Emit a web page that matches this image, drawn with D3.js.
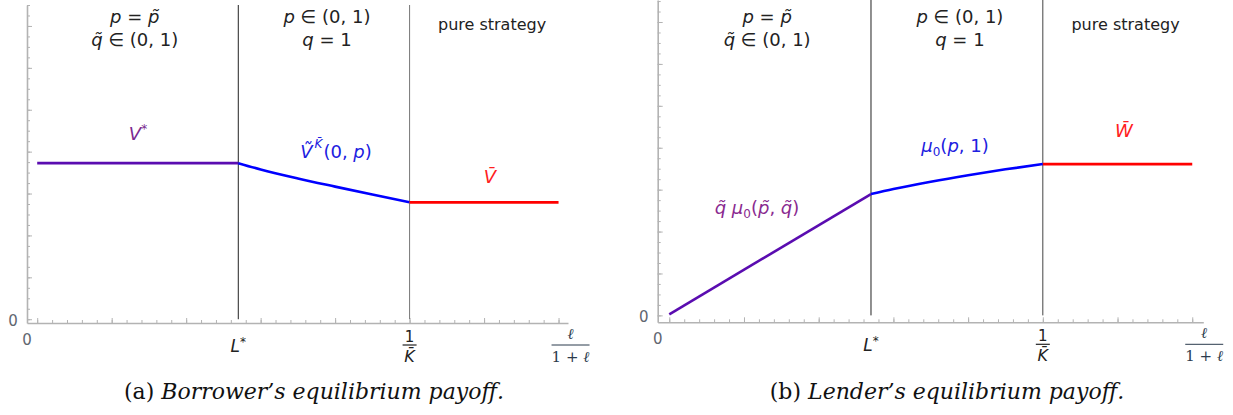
<!DOCTYPE html>
<html>
<head>
<meta charset="utf-8">
<script src="https://cdn.jsdelivr.net/npm/d3@7"></script>
<style>
  body { margin: 0; background: #fff; }
  svg { display: block; }
  .math { font-family: "DejaVu Sans", sans-serif; }
  .serif { font-family: "DejaVu Serif", serif; }
  .cap { font-family: "DejaVu Serif", serif; }
</style>
</head>
<body>
<svg id="chart" width="1233" height="415"></svg>
<script>
// Regime thresholds on the horizontal axis (model units)
const xThresholds = [0, 0.27, 0.5, 0.7];   // start, L*, 1/K̄, end

// Panel (a): borrower payoff
const borrowerMixedX = [0, 0.27];
const borrowerMixedY = [0.745, 0.745];                 // V*
const borrowerPartialX = [0.27, 0.30, 0.35, 0.40, 0.45, 0.50];
const borrowerPartialY = [0.745, 0.715, 0.672, 0.633, 0.595, 0.558]; // Ṽ^K̄(0,p)
const borrowerPureX = [0.5, 0.7];
const borrowerPureY = [0.558, 0.558];                  // V̄

// Panel (b): lender payoff
const lenderMixedX = [0, 0.27];
const lenderMixedY = [0.005, 0.579];                   // q̃ μ0(p̃,q̃)
const lenderPartialX = [0.27, 0.30, 0.35, 0.40, 0.45, 0.50];
const lenderPartialY = [0.579, 0.603, 0.638, 0.669, 0.697, 0.722]; // μ0(p,1)
const lenderPureX = [0.5, 0.7];
const lenderPureY = [0.722, 0.722];                    // W̄

// Tick grids
const xMinorStep = 0.02, xMajorStep = 0.1;
const yMinorStep = 0.05, yMajorStep = 0.2;

const svg = d3.select("#chart");

const panels = [
  {
    id: "a",
    xDomain: [-0.0137, 0.7127], xRange: [27, 568],
    yDomain: [-0.018, 1.5], yRange: [323, 5],
    series: [
      { xs: borrowerMixedX, ys: borrowerMixedY, color: "#5a0cb0" },
      { xs: borrowerPartialX, ys: borrowerPartialY, color: "#0000ff" },
      { xs: borrowerPureX, ys: borrowerPureY, color: "#ff0000" }
    ],
    lineColors: ["#222", "#777"]
  },
  {
    id: "b",
    xDomain: [-0.0155, 0.7148], xRange: [657.7, 1203.3],
    yDomain: [-0.033, 1.505], yRange: [322.3, 0],
    series: [
      { xs: lenderMixedX, ys: lenderMixedY, color: "#5a0cb0" },
      { xs: lenderPartialX, ys: lenderPartialY, color: "#0000ff" },
      { xs: lenderPureX, ys: lenderPureY, color: "#ff0000" }
    ],
    lineColors: ["#222", "#444"]
  }
];

function mathText(g, x, y, parts, opts) {
  const t = g.append("text")
    .attr("class", opts.cls || "math")
    .attr("x", x).attr("y", y)
    .attr("text-anchor", opts.anchor || "middle")
    .attr("font-size", opts.size || 16)
    .attr("fill", opts.color || "#222");
  parts.forEach(p => {
    const s = t.append("tspan").text(p.t);
    if (p.i) s.attr("font-style", "italic");
    if (p.dy) s.attr("dy", p.dy);
    if (p.dx) s.attr("dx", p.dx);
    if (p.fs) s.attr("font-size", p.fs);
  });
  return t;
}

panels.forEach(P => {
  const g = svg.append("g").attr("class", "panel-" + P.id);
  const x = d3.scaleLinear().domain(P.xDomain).range(P.xRange);
  const y = d3.scaleLinear().domain(P.yDomain).range(P.yRange);

  const xMinor = d3.range(0, 0.7001, xMinorStep);
  const xMajor = d3.range(0, 0.7001, xMajorStep);
  const yTop = P.yDomain[1];
  const yMinor = d3.range(0, yTop + 1e-9, yMinorStep);
  const yMajor = d3.range(0, yTop + 1e-9, yMajorStep);

  const axisColor = "#b3b3b3";

  // x axis: line at the bottom of the plot, ticks pointing inward
  const xAxisY = y(P.yDomain[0]);
  const gx = g.append("g").attr("transform", `translate(0,${xAxisY})`);
  gx.call(d3.axisBottom(x).tickValues(xMinor).tickSize(-3).tickFormat("").tickSizeOuter(0));
  gx.append("g").call(d3.axisBottom(x).tickValues(xMajor).tickSize(-5).tickFormat("").tickSizeOuter(0))
    .select(".domain").remove();
  gx.selectAll(".domain").attr("stroke", axisColor).attr("stroke-width", 1.6);
  gx.selectAll(".tick line").attr("stroke", axisColor).attr("stroke-width", 1);

  // y axis
  const yAxisX = x(P.xDomain[0]);
  const gy = g.append("g").attr("transform", `translate(${yAxisX},0)`);
  gy.call(d3.axisLeft(y).tickValues(yMinor).tickSize(-3).tickFormat("").tickSizeOuter(0));
  gy.append("g").call(d3.axisLeft(y).tickValues(yMajor).tickSize(-5).tickFormat("").tickSizeOuter(0))
    .select(".domain").remove();
  gy.selectAll(".domain").attr("stroke", axisColor).attr("stroke-width", 1.6);
  gy.selectAll(".tick line").attr("stroke", axisColor).attr("stroke-width", 1);

  // regime boundaries at L* and 1/K̄
  [xThresholds[1], xThresholds[2]].forEach((v, i) => {
    g.append("line")
      .attr("x1", x(v)).attr("x2", x(v))
      .attr("y1", y(0)).attr("y2", y(yTop))
      .attr("stroke", P.lineColors[i]).attr("stroke-width", 1);
  });

  // payoff curves
  const line = d3.line().x(d => x(d[0])).y(d => y(d[1])).curve(d3.curveMonotoneX);
  P.series.forEach(s => {
    g.append("path")
      .datum(s.xs.map((v, i) => [v, s.ys[i]]))
      .attr("d", line)
      .attr("fill", "none")
      .attr("stroke", s.color)
      .attr("stroke-width", 2.6);
  });

  // tick labels
  mathText(g, yAxisX - 14, y(0) + 7, [{ t: "0" }], { size: 15, color: "#5f6670" });
  mathText(g, yAxisX, xAxisY + 22, [{ t: "0" }], { size: 15, color: "#5f6670" });
  mathText(g, x(xThresholds[1]), xAxisY + 29, [{ t: "L", i: true }, { t: "*", dy: -6, fs: 12 }], { size: 17, color: "#222" });
  // 1/K̄ fraction
  const kx = x(xThresholds[2]);
  mathText(g, kx, xAxisY + 19, [{ t: "1" }], { size: 15, color: "#222" });
  g.append("line").attr("x1", kx - 7).attr("x2", kx + 7)
    .attr("y1", xAxisY + 22).attr("y2", xAxisY + 22).attr("stroke", "#222").attr("stroke-width", 1.2);
  mathText(g, kx, xAxisY + 39, [{ t: "K\u0304", i: true }], { size: 16, color: "#222" });
  // ℓ/(1+ℓ) fraction
  const lx = x(xThresholds[3]) + 12;
  mathText(g, lx, xAxisY + 16, [{ t: "ℓ", i: true }], { size: 15, color: "#2b3b4d", cls: "serif" });
  g.append("line").attr("x1", lx - 19).attr("x2", lx + 19)
    .attr("y1", xAxisY + 22).attr("y2", xAxisY + 22).attr("stroke", "#2b3b4d").attr("stroke-width", 1);
  mathText(g, lx, xAxisY + 39, [{ t: "1 + " }, { t: "ℓ", i: true }], { size: 15, color: "#2b3b4d", cls: "serif" });

  // regime annotations
  const c1 = x((xThresholds[0] + xThresholds[1]) / 2) - 3;
  const c2 = x((xThresholds[1] + xThresholds[2]) / 2) + 3;
  const c3 = x((xThresholds[2] + xThresholds[3]) / 2) + 8;
  mathText(g, c1, 23, [{ t: "p", i: true }, { t: " = " }, { t: "p\u0303", i: true }], { size: 18 });
  mathText(g, c1, 46, [{ t: "q\u0303", i: true }, { t: " ∈ (0, 1)" }], { size: 18 });
  mathText(g, c2, 23, [{ t: "p", i: true }, { t: " ∈ (0, 1)" }], { size: 18 });
  mathText(g, c2, 46, [{ t: "q", i: true }, { t: " = 1" }], { size: 18 });
  mathText(g, c3, 30, [{ t: "pure strategy" }], { size: 16 });
});

// curve labels, panel (a)
{
  const g = svg.select(".panel-a");
  mathText(g, 138, 140, [{ t: "V", i: true }, { t: "*", dy: -7, fs: 12 }], { size: 18, color: "#7b2a90" });
  mathText(g, 336, 158, [{ t: "V\u0303", i: true }, { t: "K\u0304", i: true, dx: 2, dy: -10, fs: 12 }, { t: "(0, ", dx: 1, dy: 10 }, { t: "p", i: true }, { t: ")" }], { size: 18, color: "#2020e0" });
  mathText(g, 490, 183, [{ t: "V\u0304", i: true }], { size: 18, color: "#ff2020" });
  g.append("text").attr("class", "cap").attr("x", 314).attr("y", 399)
    .attr("text-anchor", "middle").attr("font-size", 22).attr("fill", "#111")
    .call(t => { t.append("tspan").text("(a) "); t.append("tspan").attr("font-style", "italic").text("Borrower’s equilibrium payoff."); });
}
// curve labels, panel (b)
{
  const g = svg.select(".panel-b");
  mathText(g, 955, 152, [{ t: "μ", i: true }, { t: "0", dy: 4, fs: 12 }, { t: "(", dy: -4 }, { t: "p", i: true }, { t: ", 1)" }], { size: 18, color: "#2020e0" });
  mathText(g, 1124, 137, [{ t: "W\u0304", i: true }], { size: 18, color: "#ff2020" });
  mathText(g, 757, 214, [{ t: "q\u0303", i: true }, { t: " μ", i: true }, { t: "0", dy: 4, fs: 12 }, { t: "(", dy: -4 }, { t: "p\u0303", i: true }, { t: ", " }, { t: "q\u0303", i: true }, { t: ")" }], { size: 18, color: "#8a2a90" });
  g.append("text").attr("class", "cap").attr("x", 947).attr("y", 399)
    .attr("text-anchor", "middle").attr("font-size", 22).attr("fill", "#111")
    .call(t => { t.append("tspan").text("(b) "); t.append("tspan").attr("font-style", "italic").text("Lender’s equilibrium payoff."); });
}
</script>
</body>
</html>
